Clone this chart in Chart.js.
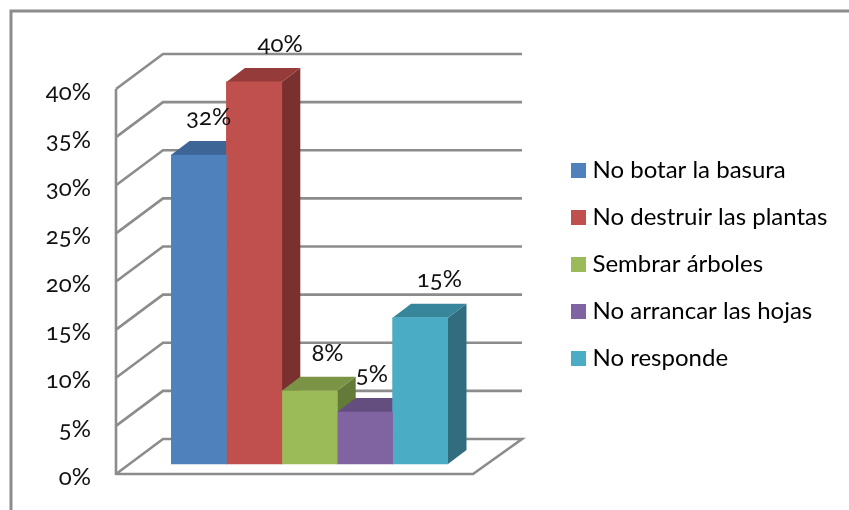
<!DOCTYPE html>
<html><head><meta charset="utf-8">
<style>html,body{margin:0;padding:0;background:#fff}#w{width:849px;height:510px;position:relative}
canvas{font-feature-settings:"onum" 1;font-variant-numeric:oldstyle-nums}</style>
<script src="https://cdn.jsdelivr.net/npm/chart.js@4"></script></head>
<body><div id="w"><canvas id="c" width="849" height="510"></canvas></div>
<script>
const categories = [""];
const seriesNames = ["No botar la basura","No destruir las plantas","Sembrar árboles","No arrancar las hojas","No responde"];
const seriesValues = [32.1,39.7,7.6,5.4,15.2];
const seriesColors = ["#4F81BD","#C0504D","#9BBB59","#8064A2","#4BACC6"];
const topColors = ["#3D6595","#953B39","#7A9345","#634E7F","#38869B"];
const sideColors = ["#30507A","#7A302E","#647A38","#513F69","#316C7F"];
const tickValues = [0,5,10,15,20,25,30,35,40];
const labelNudge = [10,26,18,7,19];

const FONT = 'Lato';
const GRID = '#8C8C8C';
const DEPTH_X = 18.5, DEPTH_Y = 14;
const WALL = {frontDy:10, backDy:-25, left:-55, backLeft:-8, floorRight:25, backRight:74};
const LEGEND_LEFT = 553.5;

function swatch(color){
  const k=document.createElement('canvas');k.width=15;k.height=15;
  const g=k.getContext('2d');g.fillStyle=color;g.fillRect(0,0,15,15);return k;
}
const swatches = seriesColors.map(swatch);

const scene = {
  id:'scene',
  afterLayout(chart){ const l=chart.legend; l.left=LEGEND_LEFT; l.right=chart.width; l.width=chart.width-LEGEND_LEFT; l.top+=1; l.bottom+=1; },
  beforeDatasetsDraw(chart){
    const {ctx,chartArea:a,scales:{y}}=chart;
    ctx.save();
    ctx.strokeStyle=GRID;ctx.lineWidth=3;ctx.lineCap='butt';
    ctx.beginPath();ctx.moveTo(11,chart.height);ctx.lineTo(11,11);ctx.lineTo(chart.width,11);ctx.stroke();
    ctx.lineWidth=2.6;ctx.lineJoin='miter';
    const xF=a.left+WALL.left, xB=a.left+WALL.backLeft, xR=a.right+WALL.backRight, xFR=a.right+WALL.floorRight;
    tickValues.forEach(v=>{
      const p=y.getPixelForValue(v), f=p+WALL.frontDy, b=p+WALL.backDy;
      ctx.beginPath();ctx.moveTo(xF,f);ctx.lineTo(xB,b);ctx.lineTo(xR,b);
      if(v===0){ctx.lineTo(xFR,f);ctx.lineTo(xF,f);}
      ctx.stroke();
    });
    const top=y.getPixelForValue(tickValues[tickValues.length-1])+WALL.frontDy, bot=y.getPixelForValue(0)+WALL.frontDy;
    ctx.beginPath();ctx.moveTo(xF,top);ctx.lineTo(xF,bot+1);ctx.stroke();
    chart.data.datasets.forEach((d,i)=>{
      const e=chart.getDatasetMeta(i).data[0];
      const l=e.x-e.width/2,r=e.x+e.width/2,t=e.y,b=e.base;
      ctx.fillStyle=sideColors[i];
      ctx.beginPath();ctx.moveTo(r,t);ctx.lineTo(r+DEPTH_X,t-DEPTH_Y);ctx.lineTo(r+DEPTH_X,b-DEPTH_Y);ctx.lineTo(r,b);ctx.closePath();ctx.fill();
      ctx.fillStyle=topColors[i];
      ctx.beginPath();ctx.moveTo(l,t);ctx.lineTo(l+DEPTH_X,t-DEPTH_Y);ctx.lineTo(r+DEPTH_X,t-DEPTH_Y);ctx.lineTo(r,t);ctx.closePath();ctx.fill();
    });
    ctx.restore();
  },
  afterDatasetsDraw(chart){
    const {ctx}=chart;
    ctx.save();
    ctx.font='24px '+FONT;ctx.fillStyle='#111';ctx.textAlign='center';ctx.textBaseline='middle';
    chart.data.datasets.forEach((d,i)=>{
      const e=chart.getDatasetMeta(i).data[0];
      ctx.fillText(Math.round(d.data[0])+'%',e.x+labelNudge[i],e.y-38);
    });
    ctx.restore();
  }
};

new Chart(document.getElementById('c'),{
  type:'bar',
  data:{labels:categories,datasets:seriesNames.map((n,i)=>({label:n,data:[seriesValues[i]],backgroundColor:seriesColors[i],yAxisID:'y',barPercentage:1,categoryPercentage:1}))},
  plugins:[scene],
  options:{
    responsive:false,animation:false,
    layout:{padding:{top:36,bottom:20,left:0,right:0}},
    plugins:{
      tooltip:{enabled:false},
      legend:{position:'right',align:'center',maxWidth:140,onClick:null,labels:{
        usePointStyle:true,pointStyleWidth:4,boxHeight:15,padding:23,color:'#111',font:{family:FONT,size:24},
        generateLabels:(c)=>c.data.datasets.map((d,i)=>({text:d.label,fillStyle:d.backgroundColor,strokeStyle:d.backgroundColor,lineWidth:0,pointStyle:swatches[i],datasetIndex:i,hidden:false}))
      }}
    },
    scales:{
      x:{display:false,offset:true},
      y:{display:false,min:-2.70,max:44.47,afterBuildTicks(s){s.ticks=tickValues.map(v=>({value:v}));}},
      yLabels:{position:'left',min:-1.351,max:45.82,
        grid:{display:true,drawOnChartArea:false,drawTicks:true,tickLength:80,tickColor:'transparent'},border:{display:false},
        afterBuildTicks(s){s.ticks=tickValues.map(v=>({value:v}));},
        afterFit(s){s.width=171;},
        ticks:{padding:0,autoSkip:false,color:'#111',font:{family:FONT,size:24},callback:v=>v+'%'}},
      yGap:{position:'right',grid:{display:false,drawTicks:false},border:{display:false},ticks:{display:false},afterFit(s){s.width=261;}}
    }
  }
});
</script></body></html>
